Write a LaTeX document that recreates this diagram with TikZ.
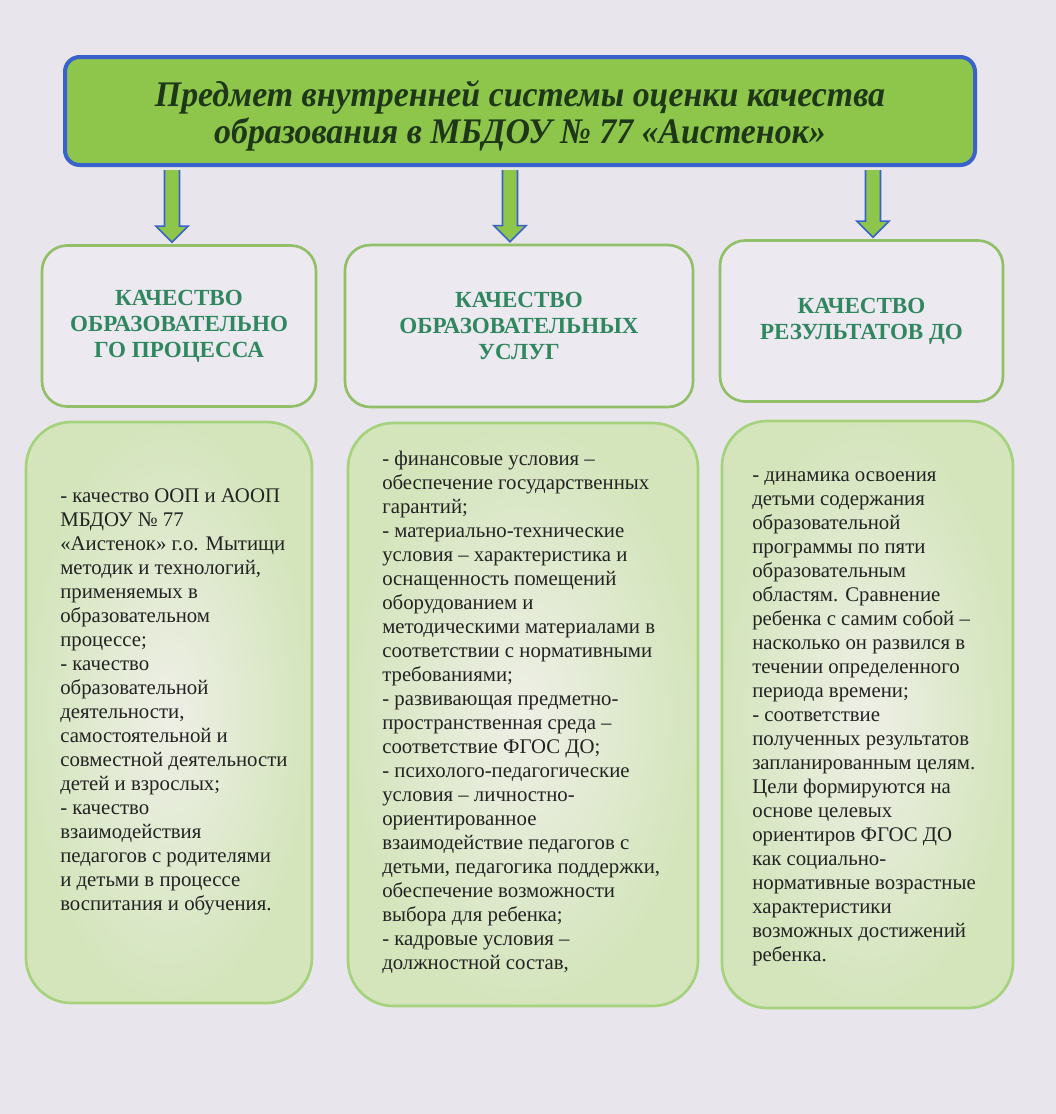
\documentclass[tikz,border=0pt]{standalone}
\usepackage{fontspec}
\setmainfont{Liberation Serif}
\newfontfamily\titlefont[FakeStretch=0.94]{Liberation Serif}
\usetikzlibrary{calc}

\definecolor{paper}{RGB}{233,229,236}
\definecolor{titlegreen}{RGB}{141,198,74}
\definecolor{titleblue}{RGB}{58,98,204}
\definecolor{titleink}{RGB}{30,55,25}
\definecolor{headline}{RGB}{145,192,105}
\definecolor{headfill}{RGB}{236,233,240}
\definecolor{headink}{RGB}{48,135,95}
\definecolor{bodyline}{RGB}{165,210,125}
\definecolor{bodyin}{RGB}{238,239,230}
\definecolor{bodyout}{RGB}{212,229,188}
\definecolor{bodyink}{RGB}{35,35,35}

\tikzset{
  titlebox/.style={draw=titleblue,line width=3pt,fill=titlegreen,rounded corners=11pt},
  titletext/.style={text=titleink,align=center,inner sep=0pt,
    font=\titlefont\bfseries\itshape\fontsize{27}{27.75}\selectfont},
  headbox/.style={draw=headline,line width=2pt,fill=headfill,rounded corners=19pt,
    text=headink,align=center,font=\bfseries\fontsize{17.3}{19.5}\selectfont},
  bodybox/.style={draw=bodyline,line width=2pt,rounded corners=34pt,
    inner color=bodyin,outer color=bodyout},
  bodytext/.style={anchor=north west,inner sep=0pt,align=left,text=bodyink,
    font=\fontsize{15.6}{18}\selectfont},
  blockarrow/.style={draw=titleblue,fill=titlegreen,line width=1.2pt,line join=miter}
}

% block arrow from #1 (top) down to tip #2
\newcommand\blockarrow[2]{%
  \draw[blockarrow] ($(#1)+(-7.5,3)$) -- ($(#2)+(-7.5,-18)$) -- ($(#2)+(-16,-18)$)
    -- ($(#2)+(0,-2)$) -- ($(#2)+(16,-18)$) -- ($(#2)+(7.5,-18)$) -- ($(#1)+(7.5,3)$);}

\begin{document}
\begin{tikzpicture}[x=0.75pt,y=-0.75pt]
\fill[paper] (0,0) rectangle (1056,1114);
\useasboundingbox (0,0) rectangle (1056,1114);

% title
\node[titlebox,minimum width=682.5pt,minimum height=81pt] (title) at (520,111) {};
\node[titletext] (titletxt) at (520,116)
  {Предмет внутренней системы оценки качества\\образования в МБДОУ № 77 «Аистенок»};

% headers
\node[headbox,minimum width=205.5pt,minimum height=120.75pt] (h1) at (179,326)
  {КАЧЕСТВО\\ОБРАЗОВАТЕЛЬНО\\ГО ПРОЦЕССА};
\node[headbox,minimum width=261pt,minimum height=121.5pt] (h2) at (519,326)
  {КАЧЕСТВО\\ОБРАЗОВАТЕЛЬНЫХ\\УСЛУГ};
\node[headbox,minimum width=212.25pt,minimum height=120.75pt] (h3) at (861.5,321)
  {КАЧЕСТВО\\РЕЗУЛЬТАТОВ ДО};

% arrows
\coordinate (a1) at (172,0);
\coordinate (a2) at (510,0);
\coordinate (a3) at (873,0);
\blockarrow{title.south -| a1}{h1.north -| a1}
\blockarrow{title.south -| a2}{h2.north -| a2}
\blockarrow{title.south -| a3}{h3.north -| a3}

% bodies
\node[bodybox,minimum width=214.5pt,minimum height=435.75pt] (b1) at (169,712.5) {};
\node[bodybox,minimum width=262.5pt,minimum height=437.25pt] (b2) at (523,714.5) {};
\node[bodybox,minimum width=218.25pt,minimum height=440.25pt] (b3) at (867.5,714.5) {};

\node[bodytext] (t1) at (60,485) {\strut- качество ООП и АООП\\МБДОУ № 77\\«Аистенок» г.о. Мытищи\\методик и технологий,\\применяемых в\\образовательном\\процессе;\\- качество\\образовательной\\деятельности,\\самостоятельной и\\совместной деятельности\\детей и взрослых;\\- качество\\взаимодействия\\педагогов с родителями\\и детьми в процессе\\воспитания и обучения.};

\node[bodytext] (t2) at (382,448) {\strut- финансовые условия –\\обеспечение государственных\\гарантий;\\- материально-технические\\условия – характеристика и\\оснащенность помещений\\оборудованием и\\методическими материалами в\\соответствии с нормативными\\требованиями;\\- развивающая предметно-\\пространственная среда –\\соответствие ФГОС ДО;\\- психолого-педагогические\\условия – личностно-\\ориентированное\\взаимодействие педагогов с\\детьми, педагогика поддержки,\\обеспечение возможности\\выбора для ребенка;\\- кадровые условия –\\должностной состав,};

\node[bodytext] (t3) at (752,464) {\strut- динамика освоения\\детьми содержания\\образовательной\\программы по пяти\\образовательным\\областям. Сравнение\\ребенка с самим собой –\\насколько он развился в\\течении определенного\\периода времени;\\- соответствие\\полученных результатов\\запланированным целям.\\Цели формируются на\\основе целевых\\ориентиров ФГОС ДО\\как социально-\\нормативные возрастные\\характеристики\\возможных достижений\\ребенка.};
\end{tikzpicture}
\end{document}
